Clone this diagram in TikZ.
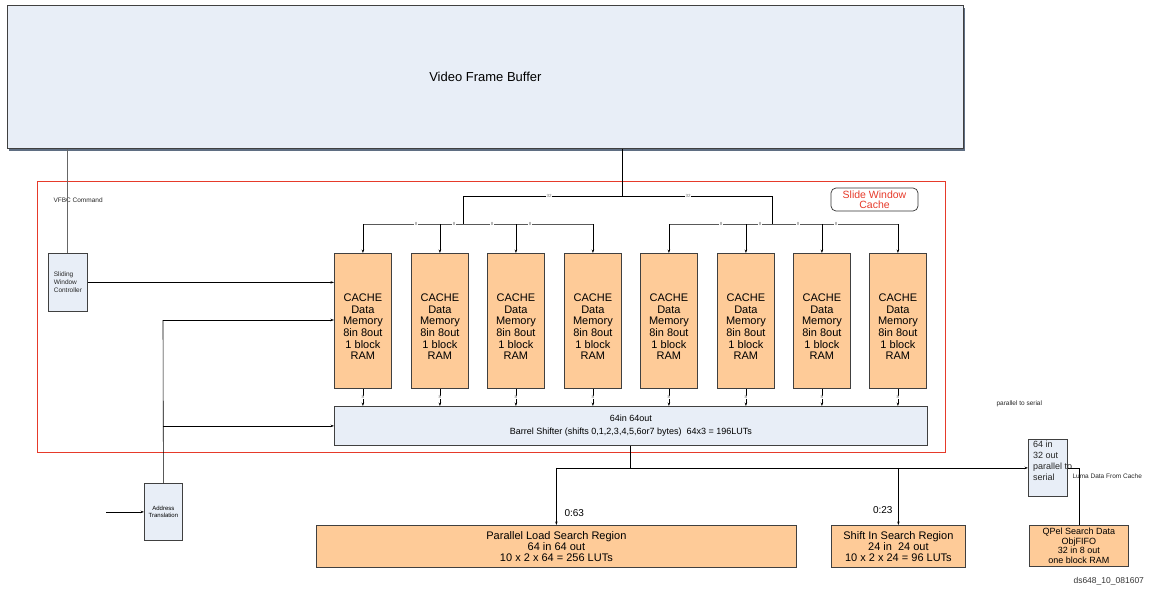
\documentclass[tikz,border=0pt]{standalone}
\usepackage{fontspec}
\setmainfont{Liberation Sans}
\usetikzlibrary{arrows.meta}
\definecolor{boxblue}{HTML}{E8EEF7}
\definecolor{cacheorange}{HTML}{FECB98}
\definecolor{framered}{HTML}{E63A2A}
\definecolor{shadowgray}{HTML}{5F6E82}
\begin{document}
\begin{tikzpicture}[x=1pt,y=-1pt,
        blk/.style={draw=black!75,line width=0.8pt,fill=boxblue,anchor=north west,inner sep=1pt},
        mem/.style={draw=black!75,line width=0.8pt,fill=cacheorange,anchor=north west,inner sep=1pt,align=center},
        arr/.style={-{Stealth[length=3.5pt,width=2.5pt]},line width=0.6pt},
        wire/.style={line width=0.6pt},
        lbl/.style={font=\fontsize{4.5}{4.5}\selectfont,text=black!55,fill=white,inner sep=0.3pt},
        small/.style={font=\fontsize{6.5}{8}\selectfont,text=black!85}]
\useasboundingbox (0,0) rectangle (1152,592);

% frame buffer and cache frame
\fill[shadowgray] (9,8) rectangle (965,151);
\node[blk,minimum width=956pt,minimum height=143pt,font=\fontsize{13}{15}\selectfont] (vfb) at (7,5) {Video Frame Buffer};
\draw[framered,line width=1.3pt] (37.5,181.5) rectangle (945.5,452.5);
\node[draw=black!80,line width=0.7pt,rounded corners=5pt,minimum width=87pt,minimum height=23pt,inner sep=0pt,
    text=framered,align=center,font=\fontsize{10.5}{10.5}\selectfont] (swclbl) at (874.5,199.5) {Slide Window\\Cache};
\node[small,anchor=west] (vfbc) at (50,200) {VFBC Command};

\node[blk,minimum width=39pt,minimum height=58pt,small,align=left] (swc) at (48,253) {Sliding\\Window\\Controller};
\foreach \i/\x in {1/334,2/411,3/487,4/564,5/640,6/717,7/793,8/869} {
    \node[mem,minimum width=57pt,minimum height=135pt] (cache\i) at (\x,253) {};
    \node[align=center,inner sep=0pt,font=\fontsize{11}{11.6}\selectfont] (cachetext\i) at ([yshift=-6pt]cache\i.center)
        {CACHE\\Data\\Memory\\8in 8out\\1 block\\RAM};
}
\node[blk,minimum width=593pt,minimum height=39pt,font=\fontsize{9}{13}\selectfont,align=center] (barrel) at (334,406)
    {64in 64out\\Barrel Shifter (shifts 0,1,2,3,4,5,6or7 bytes)\ \ 64x3 = 196LUTs};
\node[blk,minimum width=38pt,minimum height=57pt,align=center,font=\fontsize{6}{7}\selectfont] (addr) at (144,483) {Address\\Translation};

% tree from the frame buffer
\coordinate (top) at (622,196);
\coordinate (gl) at (463,196);
\coordinate (gr) at (772,196);
\coordinate (hl) at (463,224);
\coordinate (hr) at (772,224);
\draw[line width=1pt] (vfb.south -| top) -- (top);
\draw[line width=1pt] (gl) -- (gr);
\draw[line width=1pt] (gl) -- (hl);
\draw[line width=1pt] (gr) -- (hr);
\draw[wire,black!65] (cache1.north |- hl) -- (cache4.north |- hl);
\draw[wire,black!65] (cache5.north |- hr) -- (cache8.north |- hr);
\foreach \i in {1,...,8}
    \draw[arr] (cache\i.north |- hl) -- (cache\i.north);
\foreach \x in {549,688}
    \node[lbl] at (\x,196) {32};
\foreach \x in {416,454,492,530,721,760,798,836}
    \node[lbl] at (\x,224) {8};
\foreach \i in {1,...,8}
    \draw[arr] (cache\i.south) -- (cache\i.south |- barrel.north) node[lbl,midway] {8};

% control and address
\draw[black!60,line width=1pt] (vfb.south -| swc.north) -- (swc.north);
\draw[arr] (swc.east) -- (swc.east -| cache1.west);
\coordinate (aj) at (163,320);
\coordinate (ain) at (106,511);
\draw[wire] (addr.north) -- (aj);
\draw[arr] (aj) -- (aj -| cache1.west);
\draw[arr] (addr.north |- barrel.west) -- (barrel.west);
\draw[arr] (ain |- addr.west) -- (addr.west);

% outputs
\node[mem,minimum width=480pt,minimum height=42pt,font=\fontsize{11}{11}\selectfont] (pls) at (316,525)
    {Parallel Load Search Region\\64 in 64 out\\10 x 2 x 64 = 256 LUTs};
\node[mem,minimum width=134pt,minimum height=42pt,font=\fontsize{11}{11}\selectfont] (sis) at (831,525)
    {Shift In Search Region\\24 in\ \ 24 out\\10 x 2 x 24 = 96 LUTs};
\node[blk,minimum width=39pt,minimum height=57pt] (p2s) at (1028,439) {};
\node[anchor=north west,align=left,inner sep=0pt,font=\fontsize{9}{10.8}\selectfont,text=black!85] (p2stext) at (1033,441)
    {64 in\\32 out\\parallel to\\serial};
\node[mem,minimum width=99pt,minimum height=41pt,font=\fontsize{9}{9.5}\selectfont] (qpel) at (1029,525)
    {QPel Search Data\\ObjFIFO\\32 in 8 out\\one block RAM};

\draw[line width=1pt] (barrel.south) -- (barrel.south |- p2s.west);
\draw[arr] (pls.north |- p2s.west) -- (p2s.west);
\draw[arr] (pls.north |- p2s.west) -- (pls.north);
\draw[arr] (sis.north |- p2s.west) -- (sis.north);
\draw[line width=0.8pt] (p2s.east) -| (qpel.north);
\node[anchor=west,font=\fontsize{10}{10}\selectfont] (l063) at (561,513) {0:63};
\node[anchor=east,font=\fontsize{10}{10}\selectfont] (l023) at (896,510) {0:23};
\node[small,anchor=west] (luma) at (1069,476) {Luma Data From Cache};
\node[small,anchor=west] (ptsnote) at (993,404) {parallel to serial};
\node[anchor=west,font=\fontsize{8.5}{8.5}\selectfont,text=black!80] (dsid) at (1070,581) {ds648\_10\_081607};
\end{tikzpicture}
\end{document}
